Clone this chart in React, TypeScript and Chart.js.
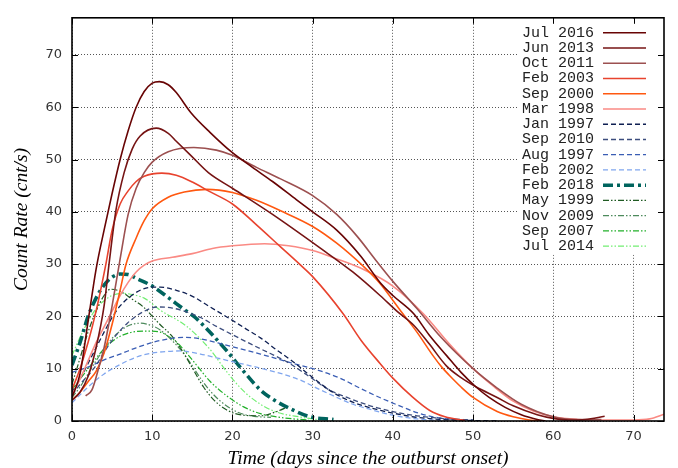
import React, { useEffect, useRef } from 'react';
import { Chart, registerables } from 'chart.js';

Chart.register(...registerables);

// ---- data (days since onset, count rate cnt/s) ----
const jul2016Days = [0, 1, 2, 3, 4, 5, 6, 7, 8, 9, 10, 10.9, 12, 13, 14.8, 17.2, 20, 22.5, 25, 28, 30, 33, 36, 38.4, 40, 42.6, 44.5, 46.7, 48.5, 50.3, 52, 54, 56, 58, 59];
const jul2016Rate = [4.5, 9, 19, 29, 36.5, 43.5, 50, 55.5, 60, 63, 64.6, 64.9, 64.3, 62.8, 59, 55.2, 51.3, 48.5, 45.8, 42.3, 40, 36.5, 31.5, 26.5, 24, 20.5, 16.5, 12.5, 9.3, 6.6, 4.5, 2.6, 1.2, 0.3, 0];

const jun2013Days = [0, 1, 2, 3, 4, 4.6, 5.5, 6.5, 7.5, 8.5, 10.5, 12, 13, 14.8, 17, 20, 25, 31, 35, 38.4, 40.5, 42.6, 44.5, 46.7, 48.5, 50.3, 53, 55, 58, 60, 62, 64, 66.4];
const jun2013Rate = [4, 5.5, 8.5, 14, 22, 29.8, 40.5, 47.5, 52, 54.5, 56, 55, 53.5, 50.8, 47.5, 44.5, 39.5, 33, 28.5, 24, 21, 18.3, 14.8, 10.5, 8.3, 6.6, 4.5, 2.9, 1.2, 0.5, 0.2, 0.3, 0.9];

const oct2011Days = [1.7, 2.5, 3.3, 4, 5, 6, 7, 8, 9, 10, 12, 15.2, 18, 20, 23, 26, 30, 33, 35.5, 38, 40, 43, 46, 50, 53, 56, 60, 63, 66];
const oct2011Rate = [4.8, 6, 10, 14, 22, 31, 39.5, 44.5, 47.5, 49.5, 51.5, 52.3, 51.8, 50.8, 48.5, 46.3, 43.1, 39.5, 35.4, 30.5, 26.7, 21.5, 16, 10, 6.3, 3.2, 0.8, 0.3, 0.3];

const feb2003Days = [0, 1, 2, 3, 4.2, 5, 6, 7, 8, 9, 11.2, 13, 15, 17, 20, 23, 26, 28.5, 30, 33.8, 36, 38.4, 40, 42.5, 44.6, 46.5, 49];
const feb2003Rate = [6, 10, 15, 21, 29.8, 36.5, 41.5, 44, 45.8, 46.8, 47.4, 47, 45.7, 44, 41.5, 37.5, 33.3, 29.8, 27.6, 20.5, 15.5, 11, 8.2, 4.5, 2, 0.8, 0.1];

const sep2000Days = [0, 1, 2, 3, 4, 5, 6, 6.7, 8, 9, 10, 12, 14, 16.8, 20, 23, 26, 30, 33, 36.3, 38.4, 41.1, 43, 45, 46.1, 47, 48.5, 50, 53, 55, 57, 59];
const sep2000Rate = [4, 5.5, 7.5, 9.5, 13, 18.5, 25, 29.8, 35, 38.3, 40.6, 42.8, 43.8, 44.3, 43.7, 42.2, 40.2, 37.2, 34, 29.6, 26.3, 20.8, 17, 12.5, 10.3, 8.8, 6.5, 4.5, 1.8, 0.8, 0.2, 0];

const mar1998Days = [0, 1, 2, 3, 4, 5, 6, 7, 8, 9, 10, 12.5, 15, 17.5, 20, 24, 27, 30, 33, 36.3, 40, 43.8, 47, 50, 52.5, 55, 57.5, 60, 63, 66, 70, 72, 73.8];
const mar1998Rate = [5, 8, 11.5, 15, 18, 21, 24, 26.5, 28.5, 29.8, 30.6, 31.3, 32, 33, 33.5, 33.9, 33.5, 32.6, 31, 29, 25.8, 20.5, 14.8, 10, 6.7, 3.8, 1.9, 0.8, 0.3, 0.2, 0.2, 0.4, 1.3];

const jan1997Days = [0, 1, 2, 3, 4, 5, 6, 7, 8.5, 10, 11, 13, 15.2, 17, 19.3, 21.5, 23.5, 25.5, 27.6, 30, 32.6, 35, 38, 40, 43, 46, 50, 53];
const jan1997Rate = [5.5, 8, 11, 14, 17, 19.8, 22, 23.5, 25, 25.6, 25.6, 25, 23.7, 22, 19.9, 17.8, 15.9, 13.6, 11.3, 8.3, 5.4, 3.6, 2.2, 1.5, 0.7, 0.3, 0.1, 0];

const sep2010Days = [0, 1, 2.7, 4.8, 6.9, 8.9, 10.6, 12.5, 14, 16, 18, 20, 23.5, 26.8, 29.3, 32, 34.3, 37, 40, 43, 46, 50];
const sep2010Rate = [5, 7, 10, 15, 18.7, 20.9, 21.8, 21.6, 21, 19.8, 18.1, 16.5, 13.8, 11.3, 8.8, 6, 4.5, 3, 1.8, 1, 0.5, 0.2];

const aug1997Days = [0, 2, 4, 6, 8, 10, 12, 14, 16, 19, 23.5, 27.6, 30.5, 33.4, 36, 38.5, 41, 43, 45, 48, 50];
const aug1997Rate = [9.3, 10.3, 11.7, 12.8, 14, 15, 15.7, 16, 15.7, 14.6, 12.8, 11, 9.8, 8.2, 6.2, 4.4, 2.8, 1.6, 0.8, 0.2, 0.05];

const feb2002Days = [0, 1, 2, 4, 6, 8, 10, 12, 13.5, 16, 19.3, 23.5, 26, 28.5, 30.5, 32.6, 35, 37, 40, 43, 46];
const feb2002Rate = [3.5, 5, 6.5, 9, 10.8, 12.2, 13, 13.3, 13.4, 12.8, 11.6, 10.1, 9.1, 7.8, 6.3, 4.8, 3.2, 2.3, 1.1, 0.4, 0.1];

const feb2018Days = [0, 1, 2, 3, 4, 5, 6, 7, 8, 10, 12, 14, 15.2, 17, 19.3, 21.4, 23.5, 25, 27, 29.7, 32.6];
const feb2018Rate = [10.7, 15, 20, 23.5, 26, 27.5, 28.1, 28, 27.3, 25.8, 23.6, 21.3, 20, 17.3, 13.4, 9.5, 5.9, 4.2, 2.5, 0.8, 0.3];

const may1999Days = [0, 1, 2, 3, 4, 4.8, 6, 7.5, 8.9, 11, 12.3, 13.5, 14.5, 15.2, 16.4, 17.7, 19.3, 21.4, 23.5, 25.5, 27.2];
const may1999Rate = [7, 12, 17, 21, 24, 25.2, 24.8, 23.3, 21.8, 18.4, 16.5, 14, 11.5, 9.6, 6.5, 4, 2.1, 1.1, 1.0, 1.8, 2.9];

const nov2009Days = [0, 1, 2, 3, 4, 5, 6, 7, 8.5, 10, 11, 12.2, 13.5, 14.8, 16, 17.2, 18.5, 20.6, 22.7, 24.8];
const nov2009Rate = [4.5, 6.5, 9, 11.5, 13.8, 15.8, 17.2, 18.2, 18.7, 18.2, 17.4, 15.8, 13.7, 11, 8.2, 5.8, 3.8, 1.7, 0.9, 0.7];

const sep2007Days = [0, 1, 2, 3, 4, 5, 6, 7.5, 9.4, 11, 12, 13.1, 15.2, 17.2, 19.3, 21.4, 23.5, 25.5, 27.6, 29.5];
const sep2007Rate = [6, 8, 10, 12, 13.8, 15.2, 16.2, 17, 17.2, 17, 16.2, 15, 11.3, 7.6, 4.8, 2.7, 1.4, 0.8, 0.4, 0.2];

const jul2014Days = [0, 1, 2, 3, 4, 5, 6.4, 8, 9, 11, 14.3, 17.2, 19.3, 21.4, 23.5, 25.5, 28.5, 30.5];
const jul2014Rate = [12.5, 16, 19, 21.5, 23, 24, 24.4, 24, 23.5, 21.2, 18.1, 13.7, 9.4, 5.7, 3.2, 1.7, 0.75, 0.3];

const seriesLabels = ['Jul 2016', 'Jun 2013', 'Oct 2011', 'Feb 2003', 'Sep 2000', 'Mar 1998', 'Jan 1997', 'Sep 2010', 'Aug 1997', 'Feb 2002', 'Feb 2018', 'May 1999', 'Nov 2009', 'Sep 2007', 'Jul 2014'];
const seriesDays = [jul2016Days, jun2013Days, oct2011Days, feb2003Days, sep2000Days, mar1998Days, jan1997Days, sep2010Days, aug1997Days, feb2002Days, feb2018Days, may1999Days, nov2009Days, sep2007Days, jul2014Days];
const seriesRates = [jul2016Rate, jun2013Rate, oct2011Rate, feb2003Rate, sep2000Rate, mar1998Rate, jan1997Rate, sep2010Rate, aug1997Rate, feb2002Rate, feb2018Rate, may1999Rate, nov2009Rate, sep2007Rate, jul2014Rate];

const xTicks = [0, 10, 20, 30, 40, 50, 60, 70];
const yTicks = [0, 10, 20, 30, 40, 50, 60, 70];

// ---- styles ----
const seriesColors = ['#680404', '#761414', '#9c5050', '#e8432e', '#ff5810', '#fa8a84', '#0e1f52', '#3c4d7e', '#3a5db4', '#80a6ee', '#00645e', '#1f5a22', '#4d8a5c', '#22b02a', '#72ee72'];
const solid: number[] = [];
const dashed = [5, 3];
const dashDot = [10, 4, 3, 4];
const dashDotDot = [6, 2, 1.5, 2, 1.5, 2];
const seriesDash = [solid, solid, solid, solid, solid, solid, dashed, dashed, dashed, dashed, dashDot, dashDotDot, dashDotDot, dashDotDot, dashDotDot];
const seriesWidth = [1.6, 1.6, 1.6, 1.6, 1.6, 1.6, 1.3, 1.3, 1.3, 1.3, 3.6, 1.2, 1.2, 1.2, 1.2];

export default function App() {
  const ref = useRef<HTMLCanvasElement>(null);

  useEffect(() => {
    const canvas = ref.current;
    if (!canvas) return;

    const datasets = seriesLabels.map((label, i) => ({
      label,
      data: seriesDays[i].map((d, j) => ({ x: d, y: seriesRates[i][j] })),
      borderColor: seriesColors[i],
      borderWidth: seriesWidth[i],
      borderDash: seriesDash[i],
      pointRadius: 0,
      fill: false,
      cubicInterpolationMode: 'monotone' as const,
      order: i,
    }));

    const framePlugin = {
      id: 'gnuFrame',
      afterDatasetsDraw(chart: any) {
        const { ctx, chartArea: a } = chart;
        ctx.save();
        // opaque key
        const keyLeft = a.right - 145;
        const keyBottom = a.top + 236;
        ctx.fillStyle = '#ffffff';
        ctx.fillRect(keyLeft, a.top + 1, a.right - 1 - keyLeft, keyBottom - a.top);
        ctx.font = '15px "Liberation Mono", "DejaVu Sans Mono", monospace';
        ctx.textAlign = 'right';
        ctx.textBaseline = 'middle';
        chart.data.datasets.forEach((ds: any, i: number) => {
          const y = a.top + 15 + i * 15.24;
          ctx.fillStyle = '#222';
          ctx.setLineDash([]);
          ctx.fillText(ds.label, a.right - 70, y);
          ctx.strokeStyle = ds.borderColor;
          ctx.lineWidth = ds.borderWidth;
          ctx.setLineDash(ds.borderDash || []);
          ctx.beginPath();
          ctx.moveTo(a.right - 61, y);
          ctx.lineTo(a.right - 18, y);
          ctx.stroke();
        });
        ctx.restore();
      },
      afterDraw(chart: any) {
        const { ctx, chartArea: a, scales } = chart;
        ctx.save();
        ctx.setLineDash([]);
        ctx.strokeStyle = '#000';
        ctx.lineWidth = 1;
        const tl = 6;
        xTicks.forEach((v) => {
          const px = Math.round(scales.x.getPixelForValue(v)) + 0.5;
          ctx.beginPath();
          ctx.moveTo(px, a.bottom); ctx.lineTo(px, a.bottom - tl);
          ctx.moveTo(px, a.top); ctx.lineTo(px, a.top + tl);
          ctx.stroke();
        });
        yTicks.forEach((v) => {
          const py = Math.round(scales.y.getPixelForValue(v)) + 0.5;
          ctx.beginPath();
          ctx.moveTo(a.left, py); ctx.lineTo(a.left + tl, py);
          ctx.moveTo(a.right, py); ctx.lineTo(a.right - tl, py);
          ctx.stroke();
        });
        ctx.lineWidth = 1.6;
        ctx.strokeRect(a.left, a.top, a.right - a.left, a.bottom - a.top);
        ctx.restore();
      },
    };

    const tickFont = { family: '"DejaVu Sans", sans-serif', size: 13 };
    const titleFont = { family: '"Liberation Serif", serif', size: 19.5, style: 'italic' as const, lineHeight: 1 };

    const chart = new Chart(canvas, {
      type: 'line',
      data: { datasets: datasets as any },
      options: {
        animation: false,
        responsive: false,
        layout: { padding: { left: 0, right: 14, top: 5, bottom: 0 } },
        plugins: { legend: { display: false }, tooltip: { enabled: false } },
        scales: {
          x: {
            type: 'linear',
            min: 0,
            max: 73.8,
            afterBuildTicks: (s: any) => { s.ticks = xTicks.map((v) => ({ value: v })); },
            afterFit: (s: any) => { s.height = 47; },
            ticks: { stepSize: 10, autoSkip: false, maxRotation: 0, padding: 8, color: '#333', font: tickFont },
            grid: { color: '#555', lineWidth: 1, drawTicks: false },
            border: { display: false, dash: [1, 2] },
            title: { display: true, text: 'Time (days since the outburst onset)', color: '#000', font: titleFont, padding: { top: 0, bottom: -1 } },
          },
          y: {
            type: 'linear',
            min: 0,
            max: 77.1,
            afterBuildTicks: (s: any) => { s.ticks = yTicks.map((v) => ({ value: v })); },
            afterFit: (s: any) => { s.width = 72; },
            ticks: { stepSize: 10, autoSkip: false, padding: 10, color: '#333', font: tickFont },
            grid: { color: '#555', lineWidth: 1, drawTicks: false },
            border: { display: false, dash: [1, 2] },
            title: { display: true, text: 'Count Rate (cnt/s)', color: '#000', font: titleFont, padding: { top: 12, bottom: 0 } },
          },
        },
      },
      plugins: [framePlugin],
    });

    return () => chart.destroy();
  }, []);

  return (
    <div style={{ position: 'fixed', left: 0, top: 0, width: 678, height: 468, background: '#fff' }}>
      <canvas ref={ref} width={678} height={468} style={{ display: 'block', width: 678, height: 468 }} />
    </div>
  );
}
